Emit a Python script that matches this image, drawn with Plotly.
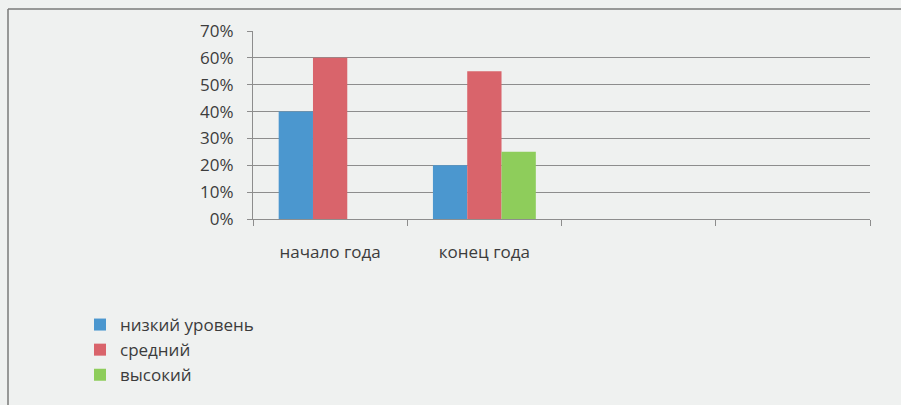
import plotly.graph_objects as go

categories = ["начало года", "конец года", " ", "  "]
series_names = ["низкий уровень", "средний", "высокий"]
low_values = [0.40, 0.20]
mid_values = [0.60, 0.55]
high_values = [0.0, 0.25]
colors = ["#4b97cf", "#d9646b", "#8ecd5b"]

W, H = 901, 405
L, R, T, B = 253, 31, 31, 186
PW, PH = W - L - R, H - T - B
BG = "#eff1f0"
GRID = "#8d8d8d"
TXT = "#3c3c3c"
FONT = "Open Sans"


def px_x(px):
    return (px - L) / PW


def px_y(py):
    return (H - B - py) / PH


fig = go.Figure()
for i, (name, vals) in enumerate(zip(series_names, [low_values, mid_values, high_values])):
    fig.add_trace(go.Bar(
        x=categories[:len(vals)], y=vals, name=name,
        marker=dict(color=colors[i], line=dict(width=0)),
    ))

fig.update_layout(
    width=W, height=H,
    margin=dict(l=L, r=R, t=T, b=B, autoexpand=False),
    paper_bgcolor=BG, plot_bgcolor=BG,
    font=dict(family=FONT, size=17, color=TXT),
    barmode="group", bargap=0.333, bargroupgap=0,
    showlegend=True,
    legend=dict(
        xref="container", yref="container",
        x=80 / W, y=1 - 307 / H, xanchor="left", yanchor="top",
        orientation="v", bgcolor="rgba(0,0,0,0)",
        font=dict(family=FONT, size=17, color=TXT),
        tracegroupgap=0, itemwidth=30,
    ),
    xaxis=dict(
        type="category", categoryorder="array", categoryarray=categories,
        range=[-0.5, len(categories) - 0.5],
        tickson="boundaries", ticks="outside", ticklen=6, tickcolor=GRID,
        showline=True, linecolor=GRID, linewidth=1.3,
        showgrid=False, ticklabelstandoff=17, automargin=False,
    ),
    yaxis=dict(
        range=[0, 0.7], dtick=0.1, tickformat=".0%",
        showgrid=True, gridcolor=GRID, gridwidth=1.3,
        showline=True, linecolor=GRID, linewidth=1.3,
        ticks="outside", ticklen=5, tickcolor=GRID,
        ticklabelstandoff=10, zeroline=False, automargin=False,
    ),
    shapes=[
        dict(type="line", xref="paper", yref="paper",
             x0=px_x(8), x1=px_x(W + 5), y0=px_y(9), y1=px_y(9),
             line=dict(color="#7a7a7a", width=1.5)),
        dict(type="line", xref="paper", yref="paper",
             x0=px_x(8), x1=px_x(8), y0=px_y(9), y1=px_y(H + 5),
             line=dict(color="#7a7a7a", width=1.5)),
    ],
)

fig.write_html(
    "out.html",
    config={"displayModeBar": False},
    post_script="document.body.style.margin='0';document.body.style.background='%s';" % BG,
)
